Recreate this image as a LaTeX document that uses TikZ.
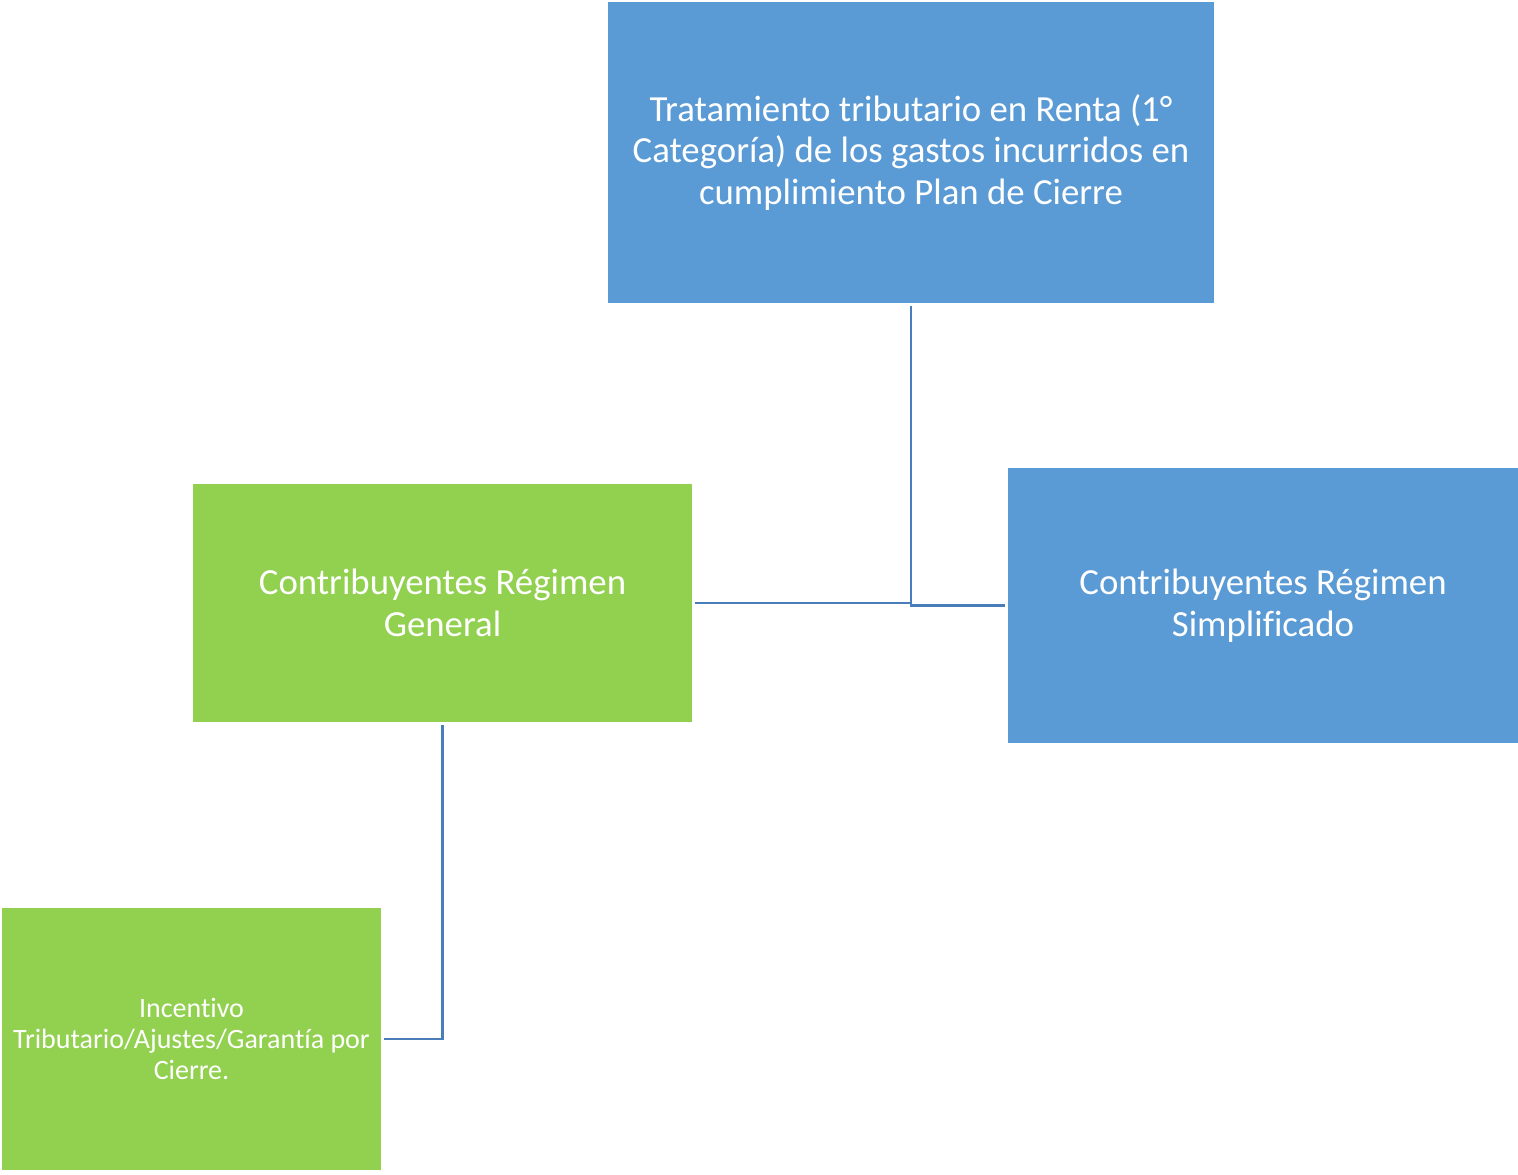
\documentclass[tikz,border=0pt]{standalone}
\usepackage{fontspec}
\setmainfont{Carlito}[Ligatures=NoCommon]
\definecolor{boxblue}{HTML}{5B9BD5}
\definecolor{boxgreen}{HTML}{92D050}
\definecolor{linkblue}{HTML}{4A7EBB}
\begin{document}
\begin{tikzpicture}[x=0.5pt,y=-0.5pt,
  box/.style={inner sep=0pt, outer sep=1.5pt, align=center, text=white},
  big/.style={font=\fontsize{18.4}{20.8}\selectfont},
  small/.style={font=\fontsize{14}{15.6}\selectfont},
  link/.style={draw=linkblue, line width=1.4pt}]
\useasboundingbox (0,0) rectangle (1518,1174);
\node[box,big,fill=boxblue,minimum width=303pt,minimum height=150.5pt] (top) at (911,152.5)
  {Tratamiento tributario en Renta (1°\\Categoría) de los gastos incurridos en\\cumplimiento Plan de Cierre};
\node[box,big,fill=boxgreen,minimum width=249.5pt,minimum height=119pt] (gen) at (442.5,603)
  {Contribuyentes Régimen\\General};
\node[box,big,fill=boxblue,minimum width=255pt,minimum height=137.5pt] (simp) at (1263,605.5)
  {Contribuyentes Régimen\\Simplificado};
\node[box,small,fill=boxgreen,minimum width=189.5pt,minimum height=131pt] (inc) at (191.5,1039)
  {Incentivo\\Tributario/Ajustes/Garantía por\\Cierre.};
\draw[link] (top.south) |- (simp.west);
\draw[link] (gen.east) -- (gen.east -| top.south);
\draw[link] (gen.south) |- (inc.east);
\end{tikzpicture}
\end{document}
